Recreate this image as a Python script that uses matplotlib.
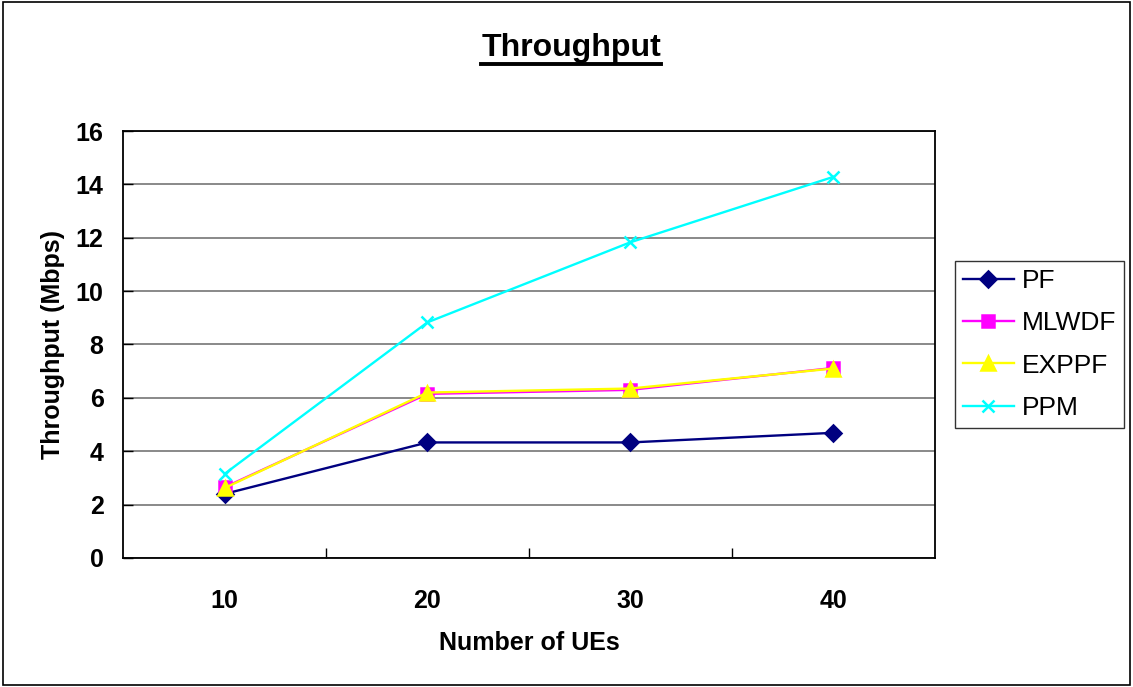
import matplotlib
matplotlib.use("Agg")
import matplotlib.pyplot as plt
from matplotlib.lines import Line2D
from matplotlib.patches import Rectangle

plt.rcParams['font.family'] = ['Liberation Sans', 'DejaVu Sans']

# data
num_ues = ['10', '20', '30', '40']
pf = [2.4, 4.33, 4.33, 4.69]
mlwdf = [2.65, 6.15, 6.3, 7.12]
exppf = [2.62, 6.2, 6.35, 7.1]
ppm = [3.15, 8.83, 11.83, 14.28]

series = [
    ('PF', pf, '#000080', 'D', 8),
    ('MLWDF', mlwdf, '#FF00FF', 's', 8),
    ('EXPPF', exppf, '#FFFF00', '^', 10),
    ('PPM', ppm, '#00FFFF', 'x', 9),
]

fig = plt.figure(figsize=(11.33, 6.87), dpi=100)
ax = fig.add_axes([0.1086, 0.1878, 0.7164, 0.6215])

x = range(len(num_ues))
for name, vals, color, mk, ms in series:
    ax.plot(x, vals, color=color, linewidth=1.7, marker=mk, markersize=ms,
            markeredgecolor=color, markerfacecolor=color, markeredgewidth=1.8,
            label=name, clip_on=False, zorder=3)

ax.set_xlim(-0.5, 3.5)
ax.set_ylim(0, 16)
ax.set_yticks(range(0, 17, 2))
ax.set_xticks(list(x))
ax.set_xticklabels(num_ues)
ax.set_xticks([0.5, 1.5, 2.5], minor=True)
ax.tick_params(axis='x', which='major', length=0, pad=22)
ax.tick_params(axis='x', which='minor', direction='in', length=7, width=1)
ax.tick_params(axis='y', direction='in', length=7, width=1, pad=14)
for lab in ax.get_xticklabels() + ax.get_yticklabels():
    lab.set_fontsize(18)
    lab.set_fontweight('bold')

ax.yaxis.grid(True, color='#808080', linewidth=1.3)
ax.set_axisbelow(True)
for sp in ax.spines.values():
    sp.set_color('black')
    sp.set_linewidth(1.3)

ax.set_xlabel('Number of UEs', fontsize=18, fontweight='bold', labelpad=13)
ax.set_ylabel('Throughput (Mbps)', fontsize=18, fontweight='bold', labelpad=8)

leg = ax.legend(loc='center left', bbox_to_anchor=(1.0246, 0.5), fontsize=19,
                frameon=True, fancybox=False, edgecolor='black',
                handlelength=1.95, borderpad=0.3, labelspacing=0.7,
                handletextpad=0.3, borderaxespad=0)
leg.get_frame().set_linewidth(1.0)

# title with underline
title = fig.text(0.504, 0.930, 'Throughput', fontsize=23, fontweight='bold',
                 ha='center', va='center')
fig.canvas.draw()
bb = title.get_window_extent().transformed(fig.transFigure.inverted())
fig.add_artist(Line2D([bb.x0, bb.x1], [bb.y0 - 0.001, bb.y0 - 0.001],
                      color='black', linewidth=2.8, transform=fig.transFigure))

# outer border
fig.add_artist(Rectangle((0.003, 0.003), 0.994, 0.994, fill=False,
                         edgecolor='black', linewidth=1.2,
                         transform=fig.transFigure))

fig.savefig('out.png', dpi=100)
